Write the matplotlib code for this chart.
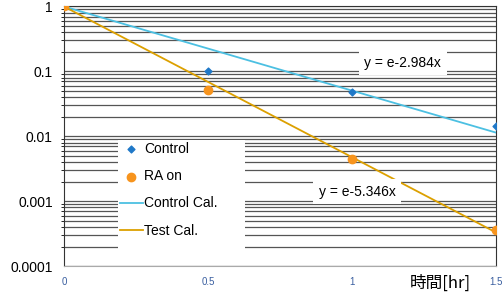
import numpy as np
import matplotlib.pyplot as plt
from matplotlib.patches import Rectangle
from matplotlib.ticker import LogLocator, FixedLocator, NullFormatter

# data
hours = [0, 0.5, 1, 1.5]
control = [1.0, 0.10, 0.048, 0.0145]
ra_on = [1.0, 0.051, 0.0044, 0.00036]
control_cal = [1.0, 0.225, 0.0506, 0.0114]   # y = e^-2.984x
test_cal = [1.0, 0.069, 0.00477, 0.00033]    # y = e^-5.346x
x_ticks = [0, 0.5, 1, 1.5]
x_ticklabels = ['0', '0.5', '1', '1.5']
y_ticks = [1, 0.1, 0.01, 0.001, 0.0001]
y_ticklabels = ['1', '0.1', '0.01', '0.001', '0.0001']

plt.rcParams['font.family'] = ['Liberation Sans', 'DejaVu Sans']

fig = plt.figure(figsize=(5.03, 2.95), dpi=100)
ax = fig.add_axes([0.127, 0.098, 0.859, 0.880])

ax.set_yscale('log')
ax.set_xlim(0, 1.5)
ax.set_ylim(0.0001, 1)

# horizontal grid (major + minor), white vertical lines
ax.yaxis.set_minor_locator(LogLocator(base=10, subs=np.arange(2, 10)))
ax.yaxis.set_minor_formatter(NullFormatter())
ax.grid(True, which='both', axis='y', color='#555555', linewidth=0.9)
for xv in [0.5, 1.0]:
    ax.axvline(xv, color='white', linewidth=2, zorder=1.5)

ax.plot(hours, control_cal, color='#4cc0e2', linewidth=1.3, label='Control Cal.', zorder=3)
ax.plot(hours, test_cal, color='#dca000', linewidth=1.3, label='Test Cal.', zorder=3)
ax.scatter(hours, control, marker='D', s=12, color='#1f78c8', label='Control', zorder=4)
ax.scatter(hours, ra_on, marker='o', s=36, color='#f7941d', label='RA on', zorder=4)

ax.text(1.177, 0.135, 'y = e-2.984x', fontsize=10, ha='center', va='center', zorder=5,
        bbox=dict(facecolor='white', edgecolor='none', pad=4))
ax.text(1.018, 0.0014, 'y = e-5.346x', fontsize=10, ha='center', va='center', zorder=5,
        bbox=dict(facecolor='white', edgecolor='none', pad=4))

ax.set_yticks(y_ticks)
ax.set_yticklabels(y_ticklabels, fontsize=10)
ax.xaxis.set_major_locator(FixedLocator(x_ticks))
ax.set_xticklabels(x_ticklabels, fontsize=7, color='#3a5fa0')
ax.tick_params(axis='both', length=0, pad=8)

ax.text(1.306, -0.065, '時間[hr]', transform=ax.get_xaxis_transform(), fontsize=12,
        ha='center', va='center', family=['Noto Sans CJK JP', 'DejaVu Sans'])

for side in ['top', 'left', 'right']:
    ax.spines[side].set_color('#333333')
ax.spines['bottom'].set_color('#aaaaaa')

# white legend area
ax.add_patch(Rectangle((0.125, 0.062), 0.294, 0.424, transform=ax.transAxes,
                       facecolor='white', edgecolor='none', zorder=5))

handles, labels = ax.get_legend_handles_labels()
order = [2, 3, 0, 1]
leg = ax.legend([handles[i] for i in order], [labels[i] for i in order],
                loc='upper left', bbox_to_anchor=(0.125, 0.486), fontsize=10,
                frameon=False, labelspacing=0.95, handlelength=1.65,
                handletextpad=0.1, borderpad=0.1, borderaxespad=0.05)
leg.set_zorder(6)

fig.savefig('out.png', dpi=100)
